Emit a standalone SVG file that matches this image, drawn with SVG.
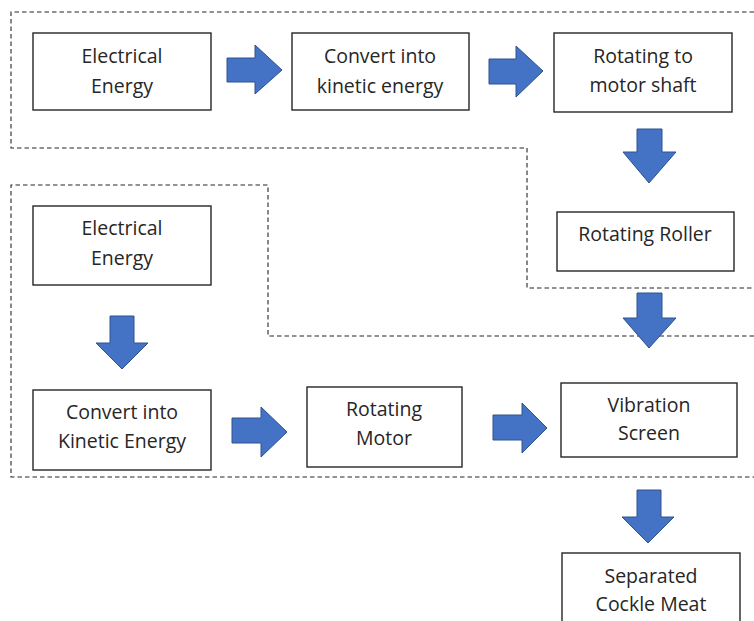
<svg xmlns="http://www.w3.org/2000/svg" width="754" height="621" viewBox="0 0 754 621">
<style>
.box{fill:#fff;stroke:#262626;stroke-width:1.4}
.dash{fill:none;stroke:#262626;stroke-width:1.1;stroke-dasharray:4.5 3}
.arr{fill:#4472C4;stroke:#2F528F;stroke-width:1}
text{font-family:"Open Sans","Liberation Sans",sans-serif;font-size:19.5px;fill:#262626;text-anchor:middle}
</style>
<rect width="754" height="621" fill="#fff"/>
<g id="regions">
<path class="dash" d="M754,12 H11 V148 H527 V288 H754"/>
<path class="dash" d="M754,336 H268 V185 H11 V477 H754"/>
</g>
<g id="n1"><rect class="box" x="33" y="33" width="178" height="77"/><text x="122" y="63">Electrical</text><text x="122" y="93">Energy</text></g>
<g id="n2"><rect class="box" x="292" y="33" width="177" height="77"/><text x="380" y="63">Convert into</text><text x="380" y="93">kinetic energy</text></g>
<g id="n3"><rect class="box" x="554" y="33" width="178" height="79"/><text x="643" y="63">Rotating to</text><text x="643" y="92">motor shaft</text></g>
<g id="n4"><rect class="box" x="557" y="212" width="177" height="59"/><text x="645" y="241">Rotating Roller</text></g>
<g id="n5"><rect class="box" x="33" y="206" width="178" height="79"/><text x="122" y="235">Electrical</text><text x="122" y="265">Energy</text></g>
<g id="n6"><rect class="box" x="33" y="390" width="178" height="80"/><text x="122" y="419">Convert into</text><text x="122" y="448">Kinetic Energy</text></g>
<g id="n7"><rect class="box" x="307" y="387" width="155" height="80"/><text x="384" y="416">Rotating</text><text x="384" y="445">Motor</text></g>
<g id="n8"><rect class="box" x="561" y="383" width="176" height="74"/><text x="649" y="412">Vibration</text><text x="649" y="440">Screen</text></g>
<g id="n9"><rect class="box" x="562" y="553" width="178" height="80"/><text x="651" y="583">Separated</text><text x="651" y="611">Cockle Meat</text></g>
<g id="connectors">
<path class="arr" d="M227,58 H255 V45 L282,70 L255,94 V82 H227 Z"/>
<path class="arr" d="M489,59 H516 V46 L543,71 L516,97 V84 H489 Z"/>
<path class="arr" d="M637,129 H662 V152 H676 L649,183 L623,152 H637 Z"/>
<path class="arr" d="M637,293 H662 V318 H676 L649,348 L623,318 H637 Z"/>
<path class="arr" d="M110,316 H134 V343 H148 L122,369 L96,343 H110 Z"/>
<path class="arr" d="M232,418 H261 V407 L287,432 L261,457 V443 H232 Z"/>
<path class="arr" d="M493,415 H522 V403 L547,428 L522,453 V440 H493 Z"/>
<path class="arr" d="M637,490 H661 V517 H674 L648,543 L622,517 H637 Z"/>
</g>
</svg>
